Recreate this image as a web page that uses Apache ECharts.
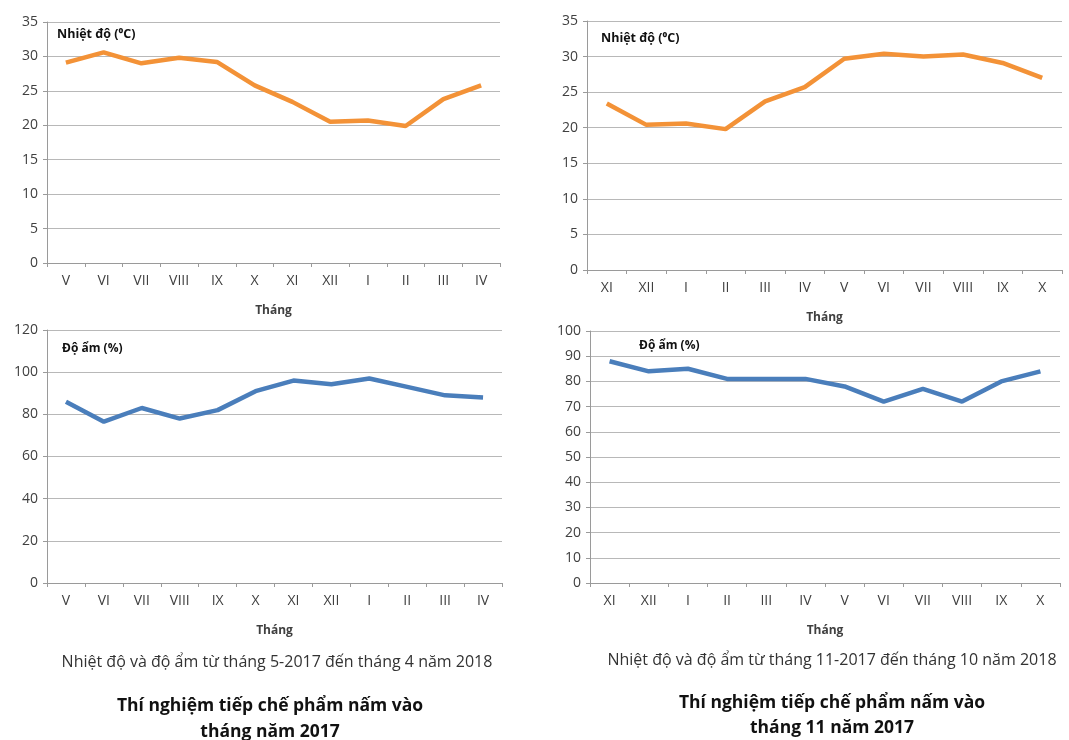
<!DOCTYPE html>
<html>
<head>
<meta charset="utf-8">
<script src="https://cdn.jsdelivr.net/npm/echarts@6/dist/echarts.min.js"></script>
<style>
  html, body { margin: 0; padding: 0; background: #fff; }
  #chart { width: 1069px; height: 740px; }
</style>
</head>
<body>
<div id="chart"></div>
<script>
  // thang 5-2017 -> thang 4-2018
  const monthsA = ['V', 'VI', 'VII', 'VIII', 'IX', 'X', 'XI', 'XII', 'I', 'II', 'III', 'IV']
  const tempA = [29.1, 30.6, 29.0, 29.8, 29.2, 25.8, 23.4, 20.5, 20.7, 19.9, 23.8, 25.8]
  const humA = [86, 76.5, 83, 78, 82, 91, 96, 94.3, 97, 93, 89, 88]

  // thang 11-2017 -> thang 10-2018
  const monthsB = ['XI', 'XII', 'I', 'II', 'III', 'IV', 'V', 'VI', 'VII', 'VIII', 'IX', 'X']
  const tempB = [23.4, 20.4, 20.6, 19.8, 23.7, 25.7, 29.7, 30.4, 30.0, 30.3, 29.1, 27.0]
  const humB = [88, 84, 85, 81, 81, 81, 78, 72, 77, 72, 80, 84]

  const FONT = '"Open Sans", "Noto Sans", sans-serif'
  const ORANGE = '#F39237'
  const BLUE = '#4A7EBB'

  const grids = [
    { left: 47, top: 22, width: 453, height: 241 },
    { left: 587, top: 21, width: 475, height: 249 },
    { left: 47, top: 330, width: 455, height: 253 },
    { left: 590, top: 331, width: 470, height: 252 }
  ]

  function xAxisFor(idx, data) {
    return {
      type: 'category',
      gridIndex: idx,
      data: data,
      boundaryGap: true,
      name: 'Tháng',
      nameLocation: 'middle',
      nameGap: 42,
      nameTextStyle: { fontFamily: FONT, fontWeight: 'bold', fontSize: 12, color: '#404040' },
      axisLine: { lineStyle: { color: '#9a9a9a', width: 1 } },
      axisTick: { show: true, length: 4, lineStyle: { color: '#9a9a9a' } },
      axisLabel: { fontFamily: FONT, fontSize: 14, color: '#404040', margin: 11 }
    }
  }

  function yAxisFor(idx, max, interval) {
    return {
      type: 'value',
      gridIndex: idx,
      min: 0,
      max: max,
      interval: interval,
      axisLine: { show: true, lineStyle: { color: '#9a9a9a', width: 1 } },
      axisTick: { show: true, length: 4, lineStyle: { color: '#9a9a9a' } },
      axisLabel: { fontFamily: FONT, fontSize: 14, color: '#404040', margin: 9 },
      splitLine: { lineStyle: { color: '#b8b8b8', width: 1 } }
    }
  }

  function lineFor(idx, data, color) {
    return {
      type: 'line',
      xAxisIndex: idx,
      yAxisIndex: idx,
      data: data,
      symbol: 'none',
      smooth: false,
      lineStyle: { color: color, width: 4.5 }
    }
  }

  function label(x, y, text, size, bold, align) {
    return {
      type: 'text',
      x: x,
      y: y,
      style: {
        text: text,
        fontFamily: FONT,
        fontSize: size,
        fontWeight: bold ? 'bold' : 'normal',
        fill: bold ? '#111' : '#333',
        align: align || 'left',
        verticalAlign: 'middle'
      }
    }
  }

  const chart = echarts.init(document.getElementById('chart'))

  const option = {
    backgroundColor: '#fff',
    animation: false,
    grid: grids,
    xAxis: [xAxisFor(0, monthsA), xAxisFor(1, monthsB), xAxisFor(2, monthsA), xAxisFor(3, monthsB)],
    yAxis: [yAxisFor(0, 35, 5), yAxisFor(1, 35, 5), yAxisFor(2, 120, 20), yAxisFor(3, 100, 10)],
    series: [
      lineFor(0, tempA, ORANGE),
      lineFor(1, tempB, ORANGE),
      lineFor(2, humA, BLUE),
      lineFor(3, humB, BLUE)
    ],
    graphic: [
      label(57, 34, 'Nhiệt độ (⁰C)', 12.5, true),
      label(601, 38, 'Nhiệt độ (⁰C)', 12.5, true),
      label(62, 349, 'Độ ẩm (%)', 12, true),
      label(639, 346, 'Độ ẩm (%)', 12, true),
      label(277, 662, 'Nhiệt độ và độ ẩm từ tháng 5-2017 đến tháng 4 năm 2018', 16, false, 'center'),
      label(832, 660, 'Nhiệt độ và độ ẩm từ tháng 11-2017 đến tháng 10 năm 2018', 16, false, 'center'),
      label(270, 706, 'Thí nghiệm tiếp chế phẩm nấm vào', 17.5, true, 'center'),
      label(270, 732, 'tháng năm 2017', 17.5, true, 'center'),
      label(832, 703, 'Thí nghiệm tiếp chế phẩm nấm vào', 17.5, true, 'center'),
      label(832, 728, 'tháng 11 năm 2017', 17.5, true, 'center')
    ]
  }

  chart.setOption(option, true)
</script>
</body>
</html>
